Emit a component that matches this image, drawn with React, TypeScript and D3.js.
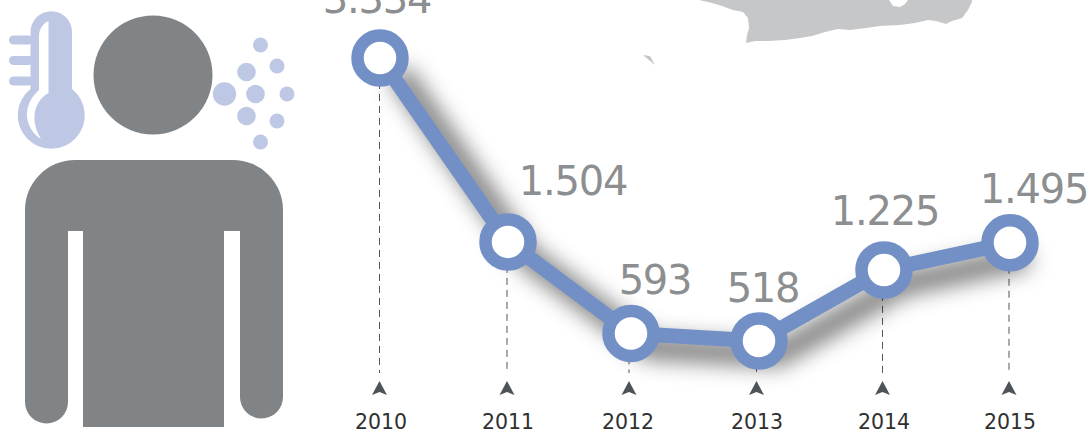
import React from "react";
import * as d3 from "d3";

const years = ["2010", "2011", "2012", "2013", "2014", "2015"];
const values = [3334, 1504, 593, 518, 1225, 1495];
const valueLabels = ["3.334", "1.504", "593", "518", "1.225", "1.495"];

const W = 1091, H = 434;
const pointX = [380, 508, 631, 759, 884, 1010];
const yearX = [381, 508, 628, 757, 884, 1010];
const tickX = [379.5, 507, 629, 756.5, 882.5, 1009];
const labelX = [377, 573, 655, 763, 885, 1034];
const labelY = [13, 195, 294, 302, 225, 203];

const x = d3.scaleOrdinal<string, number>().domain(years).range(pointX);
const xYear = d3.scaleOrdinal<string, number>().domain(years).range(yearX);
const xTick = d3.scaleOrdinal<string, number>().domain(years).range(tickX);
const y = d3.scaleLinear().domain([0, 3334]).range([393, 58]);

const lineGen = d3
  .line<number>()
  .x((_, i) => x(years[i]))
  .y((d) => y(d));

const BLUE = "#7290c5";
const LIGHT = "#bec8e4";
const GREY = "#818486";

const dots: [number, number, number][] = [
  [260.5, 45, 7.5], [277, 66, 7.5], [246.5, 72, 9.3], [224.5, 94, 11.7], [255.5, 94, 9.3],
  [287, 94, 7.5], [246.5, 116, 9.3], [277, 121, 7.5], [260.5, 142, 7.5],
];

export default function App() {
  return (
    <svg width={W} height={H} viewBox={`0 0 ${W} ${H}`} style={{ position: "absolute", left: 0, top: 0, display: "block", background: "#fff" }}>
      <defs>
        <filter id="sh" x="-20%" y="-30%" width="140%" height="170%">
          <feGaussianBlur stdDeviation="11" />
        </filter>
      </defs>

      {/* map fragment */}
      <path
        fill="#c6c7c9"
        d="M699,0 L712,3 L722,6 L733,10 L743,12 L748,18 L749,28 L747,35 L746,43 L755,41 L768,41 L785,40 L800,38 L812,36 L825,32 L838,29 L850,30 L866,28 L880,26 L900,25 L915,23 L928,20 L936,21 L946,24 L952,21 L962,18 L968,10 L972,2 L972,0 L908,0 L905,4 L900,7 L893,6 L889,0 Z"
      />
      <path fill="#c6c7c9" d="M643,55 L650,56 L655,65 L650,61 Z" />

      {/* thermometer */}
      <path
        fill={LIGHT}
        d="M30.5,32 A20.75,20.75 0 0 1 72,32 L72,89 A33.5,33.5 0 1 1 30.5,89 Z"
      />
      <path fill="#fff" d="M48.5,21 C42,24 39,30 39,36 L39,90 C32,96 26,106 27,117 C28,126 33,134 41,139 C37,132 34,125 34.5,116 C35,106 40,98 48.5,93 Z" />
      {[40, 60.5, 81].map((ty) => (
        <rect key={ty} x={9} y={ty - 4.5} width={24} height={9} rx={4.5} fill={LIGHT} />
      ))}

      {/* person */}
      <circle cx={153} cy={75} r={59.5} fill={GREY} />
      <path
        fill={GREY}
        d="M75,160 L233,160 A50,50 0 0 1 283,210 L283,397 A21.5,21.5 0 0 1 240,397 L240,231 L224,231 L224,427 L83,427 L83,231 L68,231 L68,402 A21.5,21.5 0 0 1 25,402 L25,210 A50,50 0 0 1 75,160 Z"
      />

      {dots.map(([cx, cy, r], i) => (
        <circle key={i} cx={cx} cy={cy} r={r} fill={LIGHT} />
      ))}

      {/* guides and ticks */}
      {years.map((yr, i) => (
        <g key={yr}>
          <line x1={xTick(yr)} x2={xTick(yr)} y1={y(values[i])} y2={373} stroke="#555" strokeWidth={1} strokeDasharray="7 5" />
          <path
            transform={`translate(${xTick(yr)},381)`}
            d="M0,0 L7.5,14 L0,11 L-7.5,14 Z"
            fill="#4e535a"
          />
          <text x={xYear(yr)} y={429} textAnchor="middle" fontFamily="'DejaVu Sans', sans-serif" fontSize={20.5} fill="#2f2f2f">
            {yr}
          </text>
        </g>
      ))}

      {/* shadow + line */}
      <path d={lineGen(values) ?? ""} transform="translate(18,14)" fill="none" stroke="#000" strokeOpacity={0.55} strokeWidth={22} filter="url(#sh)" />
      <path d={lineGen(values) ?? ""} fill="none" stroke={BLUE} strokeWidth={15} />

      {years.map((yr, i) => (
        <circle key={yr} cx={x(yr)} cy={y(values[i])} r={22.5} fill="#fff" stroke={BLUE} strokeWidth={12.5} />
      ))}

      {valueLabels.map((t, i) => (
        <text key={t} x={labelX[i]} y={labelY[i]} textAnchor="middle" fontFamily="'DejaVu Sans', sans-serif" fontSize={40} letterSpacing={-1.2} fill="#8c8e90">
          {t}
        </text>
      ))}
    </svg>
  );
}
